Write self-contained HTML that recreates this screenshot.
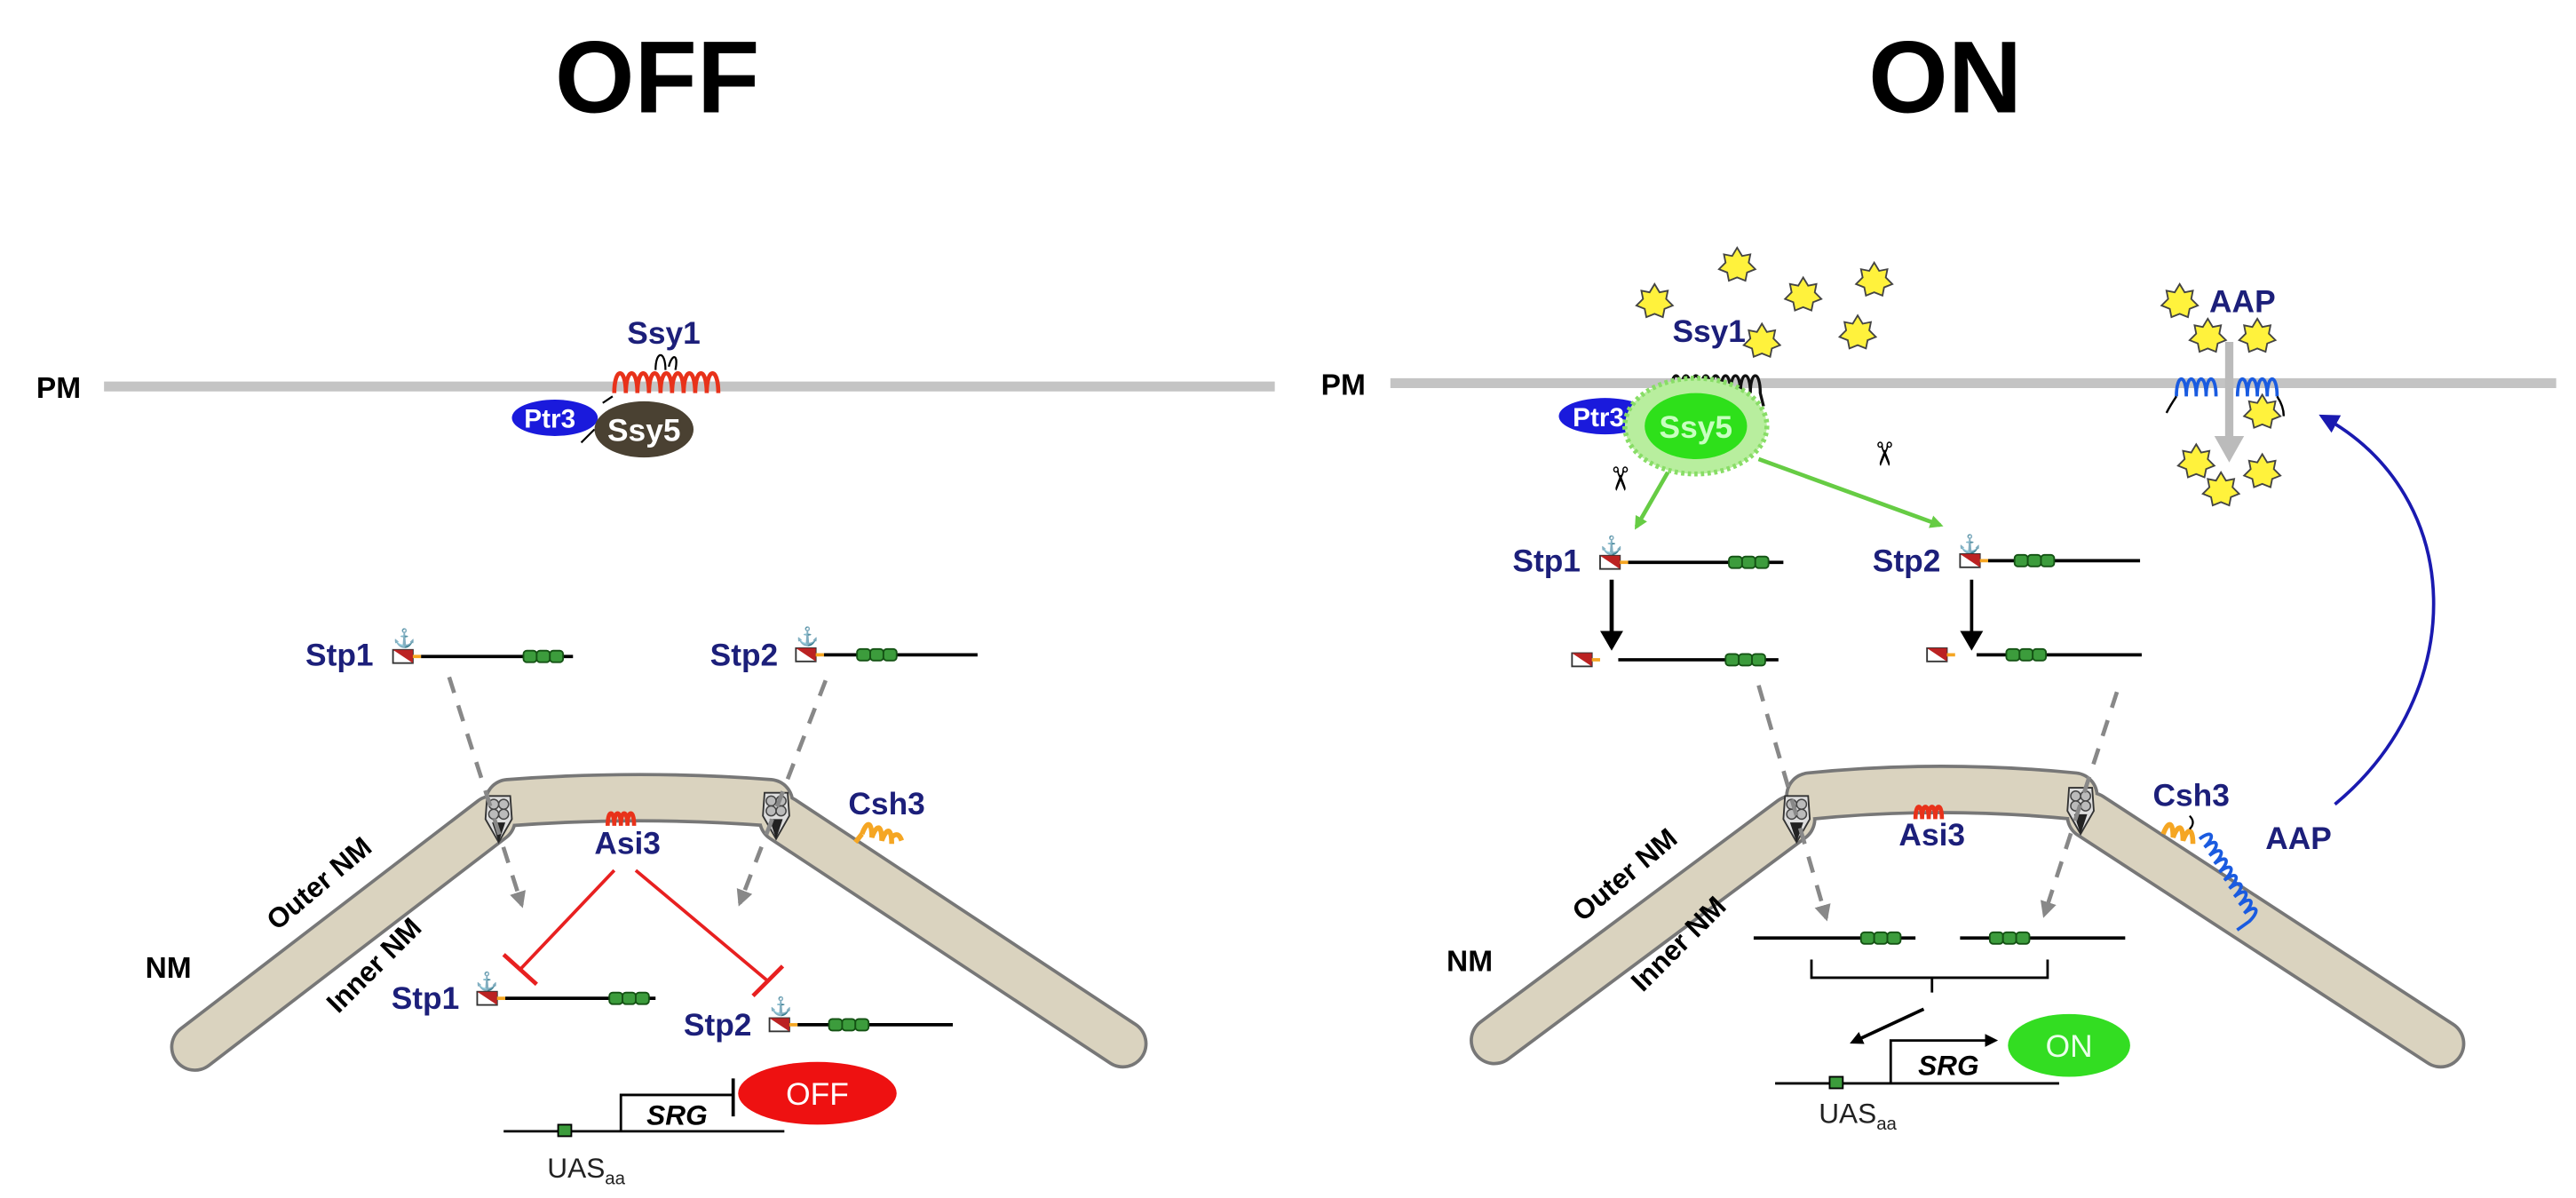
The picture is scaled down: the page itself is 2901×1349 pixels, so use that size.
<!DOCTYPE html>
<html><head><meta charset="utf-8"><style>
html,body{margin:0;padding:0;background:#fff;}
svg{display:block;}
text{font-family:"Liberation Sans",Arial,sans-serif;font-weight:bold;}
.lb{fill:#1c1f7a;font-size:19px;}
</style></head><body>
<svg width="2901" height="1349" viewBox="0 0 1560 725.4" preserveAspectRatio="none" xmlns="http://www.w3.org/2000/svg">
<defs>
<path id="star" d="M0,-11 L3,-6 8,-7 7,-2 11,2 6,4 5,9 0,7 -5,9 -6,4 -11,2 -7,-2 -8,-7 -3,-6Z" fill="#fff23c" stroke="#444" stroke-width="1"/>
<marker id="ag" markerWidth="8" markerHeight="8" refX="6" refY="4" orient="auto" markerUnits="userSpaceOnUse"><path d="M0,0 L8,4 0,8Z" fill="#66cc44"/></marker>
<marker id="ad" markerWidth="10" markerHeight="10" refX="8" refY="5" orient="auto" markerUnits="userSpaceOnUse"><path d="M0,0 L10,5 0,10Z" fill="#888"/></marker>
<marker id="ab" markerWidth="12" markerHeight="12" refX="10" refY="6" orient="auto" markerUnits="userSpaceOnUse"><path d="M0,0 L12,6 0,12Z" fill="#1a1ab0"/></marker>
<marker id="ak" markerWidth="12" markerHeight="14" refX="10" refY="7" orient="auto" markerUnits="userSpaceOnUse"><path d="M0,0 L12,7 0,14Z" fill="#000"/></marker>
<marker id="ak2" markerWidth="8" markerHeight="8" refX="6" refY="4" orient="auto" markerUnits="userSpaceOnUse"><path d="M0,0 L8,4 0,8Z" fill="#000"/></marker>
<g id="box"><rect x="0" y="-3.5" width="12" height="8" fill="#fff" stroke="#333" stroke-width="1"/><path d="M0,-3.5 L12,-3.5 12,4.5Z" fill="#b22"/><line x1="12" y1="0.5" x2="17" y2="0.5" stroke="#f5a623" stroke-width="2"/></g>
<g id="beads"><rect x="0" y="-3.5" width="8" height="7" rx="2" fill="#3c9c3c" stroke="#145214" stroke-width="1"/><rect x="8" y="-3.5" width="8" height="7" rx="2" fill="#3c9c3c" stroke="#145214" stroke-width="1"/><rect x="16" y="-3.5" width="8" height="7" rx="2" fill="#3c9c3c" stroke="#145214" stroke-width="1"/></g>
<g id="anc"><text x="0" y="0" font-size="11" font-weight="normal" fill="#555" text-anchor="middle">⚓</text></g>
<g id="pore"><path d="M-7,-10 L7,-10 8,4 0,18 -8,4Z" fill="#ddd" stroke="#333" stroke-width="1"/><circle cx="-3" cy="-5" r="3" fill="#bbb" stroke="#444" stroke-width=".8"/><circle cx="3" cy="-5" r="3" fill="#bbb" stroke="#444" stroke-width=".8"/><circle cx="-3" cy="1" r="3" fill="#bbb" stroke="#444" stroke-width=".8"/><circle cx="3" cy="1" r="3" fill="#bbb" stroke="#444" stroke-width=".8"/><path d="M-4,6 L0,18 4,6" fill="#222"/></g>
</defs>

<!-- titles -->
<text x="398" y="68" font-size="62" text-anchor="middle" fill="#000">OFF</text>
<text x="1178" y="68" font-size="62" text-anchor="middle" fill="#000">ON</text>

<!-- ============ LEFT (OFF) ============ -->
<text x="22" y="241" font-size="18" fill="#000">PM</text>
<line x1="63" y1="234" x2="772" y2="234" stroke="#c4c4c4" stroke-width="6"/>
<path d="M372,238 c0,-16 7,-16 7,0 c0,-16 7,-16 7,0 c0,-16 7,-16 7,0 c0,-16 7,-16 7,0 c0,-16 7,-16 7,0 c0,-16 7,-16 7,0 c0,-16 7,-16 7,0 c0,-16 7,-16 7,0 c0,-16 7,-16 7,0" fill="none" stroke="#e8321a" stroke-width="2.5"/>
<path d="M397,224 c0,-12 6,-12 6,0 M405,222 c2,-8 6,-8 4,2" fill="none" stroke="#000" stroke-width="1.2"/>
<text class="lb" x="402" y="208" text-anchor="middle">Ssy1</text>
<ellipse cx="336" cy="253" rx="26" ry="11" fill="#1a1adc"/>
<text x="333" y="259" font-size="16" fill="#fff" text-anchor="middle">Ptr3</text>
<path d="M352,268 l8,-8 M365,244 l6,-4" stroke="#000" stroke-width="1.2"/>
<ellipse cx="390" cy="260" rx="30" ry="17" fill="#4a4132"/>
<text x="390" y="267" font-size="19" fill="#fff" text-anchor="middle">Ssy5</text>

<!-- Stp top left -->
<text class="lb" x="185" y="403">Stp1</text>
<use href="#anc" x="245" y="390"/>
<use href="#box" x="238" y="397"/>
<line x1="255" y1="397.5" x2="347" y2="397.5" stroke="#000" stroke-width="2"/>
<use href="#beads" x="317" y="397.5"/>
<text class="lb" x="430" y="403">Stp2</text>
<use href="#anc" x="489" y="389"/>
<use href="#box" x="482" y="396"/>
<line x1="499" y1="396.5" x2="592" y2="396.5" stroke="#000" stroke-width="2"/>
<use href="#beads" x="519" y="396.5"/>

<!-- nucleus left -->
<g fill="none" stroke-linecap="round" stroke-linejoin="round">
<path d="M118,634 L298,496 M308,486 Q388,480 466,486 M474,496 L680,632" stroke="#777" stroke-width="30"/>
<path d="M118,634 L298,496 M308,486 Q388,480 466,486 M474,496 L680,632" stroke="#dad3bf" stroke-width="26"/>
</g>
<use href="#pore" x="302" y="492"/>
<use href="#pore" x="470" y="490"/>
<line x1="272" y1="410" x2="316" y2="548" stroke="#888" stroke-width="2.5" stroke-dasharray="10,8" marker-end="url(#ad)"/>
<line x1="500" y1="412" x2="448" y2="547" stroke="#888" stroke-width="2.5" stroke-dasharray="10,8" marker-end="url(#ad)"/>
<path d="M368,500 c0,-10 4,-10 4,0 c0,-10 4,-10 4,0 c0,-10 4,-10 4,0 c0,-10 4,-10 4,0" fill="none" stroke="#e8321a" stroke-width="2.5"/>
<text class="lb" x="380" y="517" text-anchor="middle">Asi3</text>
<text class="lb" x="537" y="493" text-anchor="middle">Csh3</text>
<path d="M522,505 c3,-8 6,-8 6,2 c3,-8 6,-8 6,2 c3,-8 6,-8 6,2 M518,510 l4,-5 M540,507 q4,-4 6,2" fill="none" stroke="#f5a623" stroke-width="3"/>
<text x="102" y="592" font-size="18" text-anchor="middle" fill="#000">NM</text>
<text x="195" y="540" font-size="17" fill="#000" text-anchor="middle" transform="rotate(-40 195 537)">Outer NM</text>
<text x="227" y="590" font-size="17" fill="#000" text-anchor="middle" transform="rotate(-45 227 585)">Inner NM</text>
<line x1="372" y1="527" x2="315" y2="587" stroke="#e82020" stroke-width="2"/>
<line x1="305" y1="578" x2="325" y2="596" stroke="#e82020" stroke-width="2.5"/>
<line x1="385" y1="527" x2="465" y2="594" stroke="#e82020" stroke-width="2"/>
<line x1="456" y1="603" x2="474" y2="585" stroke="#e82020" stroke-width="2.5"/>
<text class="lb" x="237" y="611">Stp1</text>
<use href="#anc" x="295" y="598"/>
<use href="#box" x="289" y="604"/>
<line x1="306" y1="604.5" x2="397" y2="604.5" stroke="#000" stroke-width="2"/>
<use href="#beads" x="369" y="604.5"/>
<text class="lb" x="414" y="627">Stp2</text>
<use href="#anc" x="473" y="613"/>
<use href="#box" x="466" y="620"/>
<line x1="483" y1="620.5" x2="577" y2="620.5" stroke="#000" stroke-width="2"/>
<use href="#beads" x="502" y="620.5"/>
<polyline points="305,685 475,685" stroke="#000" stroke-width="1.5" fill="none"/>
<polyline points="376,685 376,663 444,663" stroke="#000" stroke-width="1.5" fill="none"/>
<line x1="444" y1="653" x2="444" y2="676" stroke="#000" stroke-width="2"/>
<text x="410" y="681" font-size="17" font-style="italic" text-anchor="middle" fill="#000">SRG</text>
<rect x="338" y="681" width="8" height="7" fill="#3c9c3c" stroke="#000" stroke-width="1"/>
<text x="355" y="713" font-size="17" text-anchor="middle" fill="#222" style="font-weight:normal">UAS<tspan font-size="11" dy="4">aa</tspan></text>
<ellipse cx="495" cy="662" rx="48" ry="19" fill="#ee1111"/>
<text x="495" y="669" font-size="19" style="font-weight:normal" fill="#fff" text-anchor="middle">OFF</text>

<!-- ============ RIGHT (ON) ============ -->
<text x="800" y="239" font-size="18" fill="#000">PM</text>
<line x1="842" y1="232" x2="1548" y2="232" stroke="#c4c4c4" stroke-width="6"/>
<use href="#star" x="1052" y="161"/><use href="#star" x="1002" y="183"/><use href="#star" x="1092" y="179"/>
<use href="#star" x="1135" y="170"/><use href="#star" x="1125" y="202"/><use href="#star" x="1067" y="207"/>
<use href="#star" x="1320" y="183"/><use href="#star" x="1337" y="204"/><use href="#star" x="1367" y="204"/>
<use href="#star" x="1370" y="250"/><use href="#star" x="1330" y="280"/><use href="#star" x="1345" y="297"/><use href="#star" x="1370" y="286"/>
<path d="M1012,238 c0,-14 6,-14 6,0 c0,-14 6,-14 6,0 c0,-14 6,-14 6,0 c0,-14 6,-14 6,0 c0,-14 6,-14 6,0 c0,-14 6,-14 6,0 c0,-14 6,-14 6,0 c0,-14 6,-14 6,0 c0,-14 6,-14 6,0 l2,8" fill="none" stroke="#111" stroke-width="1.8"/>
<text class="lb" x="1035" y="207" text-anchor="middle">Ssy1</text>
<ellipse cx="972" cy="252" rx="28" ry="11" fill="#1a1adc"/>
<text x="968" y="258" font-size="16" fill="#fff" text-anchor="middle">Ptr3</text>
<ellipse cx="1027" cy="258" rx="43" ry="29" fill="#b8ee9e" stroke="#88dd66" stroke-width="3" stroke-dasharray="2,2"/>
<ellipse cx="1027" cy="258" rx="31" ry="20" fill="#2ee01a"/>
<text x="1027" y="265" font-size="19" fill="#c8ffc0" text-anchor="middle">Ssy5</text>
<line x1="1010" y1="286" x2="991" y2="319" stroke="#66cc44" stroke-width="2.5" marker-end="url(#ag)"/>
<line x1="1065" y1="278" x2="1175" y2="318" stroke="#66cc44" stroke-width="2.5" marker-end="url(#ag)"/>
<text x="980" y="296" font-size="20" style="font-weight:normal" text-anchor="middle" transform="rotate(90 980 290)">✂</text>
<text x="1140" y="281" font-size="20" style="font-weight:normal" text-anchor="middle" transform="rotate(90 1140 275)">✂</text>
<text class="lb" x="1358" y="189" text-anchor="middle">AAP</text>
<path d="M1318,240 c0,-14 6,-14 6,0 c0,-14 6,-14 6,0 c0,-14 6,-14 6,0 c0,-14 6,-14 6,0 M1355,240 c0,-14 6,-14 6,0 c0,-14 6,-14 6,0 c0,-14 6,-14 6,0 c0,-14 6,-14 6,0" fill="none" stroke="#1a5be0" stroke-width="2"/>
<path d="M1318,240 q-4,6 -6,10 M1379,240 q4,6 4,12" fill="none" stroke="#000" stroke-width="1.3"/>
<line x1="1350" y1="207" x2="1350" y2="268" stroke="#bbb" stroke-width="5"/>
<path d="M1341,264 L1359,264 1350,280Z" fill="#bbb"/>
<path d="M1414,487 C1495,420 1495,300 1406,252" fill="none" stroke="#1a1ab0" stroke-width="2" marker-end="url(#ab)"/>
<text class="lb" x="916" y="346">Stp1</text>
<use href="#anc" x="976" y="334"/>
<use href="#box" x="969" y="340"/>
<line x1="986" y1="340.5" x2="1080" y2="340.5" stroke="#000" stroke-width="2"/>
<use href="#beads" x="1047" y="340.5"/>
<line x1="976" y1="351" x2="976" y2="392" stroke="#000" stroke-width="2.5" marker-end="url(#ak)"/>
<use href="#box" x="952" y="399"/>
<line x1="980" y1="399.5" x2="1077" y2="399.5" stroke="#000" stroke-width="2"/>
<use href="#beads" x="1045" y="399.5"/>
<text class="lb" x="1134" y="346">Stp2</text>
<use href="#anc" x="1193" y="333"/>
<use href="#box" x="1187" y="339"/>
<line x1="1204" y1="339.5" x2="1296" y2="339.5" stroke="#000" stroke-width="2"/>
<use href="#beads" x="1220" y="339.5"/>
<line x1="1194" y1="351" x2="1194" y2="392" stroke="#000" stroke-width="2" marker-end="url(#ak)"/>
<use href="#box" x="1167" y="396"/>
<line x1="1197" y1="396.5" x2="1297" y2="396.5" stroke="#000" stroke-width="2"/>
<use href="#beads" x="1215" y="396.5"/>
<g fill="none" stroke-linecap="round" stroke-linejoin="round">
<path d="M905,630 L1085,496 M1096,482 Q1175,474 1256,482 M1266,494 L1478,632" stroke="#777" stroke-width="30"/>
<path d="M905,630 L1085,496 M1096,482 Q1175,474 1256,482 M1266,494 L1478,632" stroke="#dad3bf" stroke-width="26"/>
</g>
<use href="#pore" x="1088" y="492"/>
<use href="#pore" x="1260" y="487"/>
<line x1="1065" y1="415" x2="1106" y2="556" stroke="#888" stroke-width="2.5" stroke-dasharray="10,8" marker-end="url(#ad)"/>
<line x1="1282" y1="419" x2="1238" y2="554" stroke="#888" stroke-width="2.5" stroke-dasharray="10,8" marker-end="url(#ad)"/>
<path d="M1160,496 c0,-10 4,-10 4,0 c0,-10 4,-10 4,0 c0,-10 4,-10 4,0 c0,-10 4,-10 4,0" fill="none" stroke="#e8321a" stroke-width="2.5"/>
<text class="lb" x="1170" y="512" text-anchor="middle">Asi3</text>
<text class="lb" x="1327" y="488" text-anchor="middle">Csh3</text>
<path d="M1310,505 c3,-8 6,-8 6,2 c3,-8 6,-8 6,2 c3,-8 6,-8 6,2" fill="none" stroke="#f5a623" stroke-width="3"/>
<path d="M1326,494 q4,4 0,8" fill="none" stroke="#000" stroke-width="1.2"/>
<path d="M1332,508 c4,-9 8,-6 5,3 c4,-9 8,-6 5,3 c4,-9 8,-6 5,3 c4,-9 8,-6 5,3 c4,-9 8,-6 5,3 c4,-9 8,-6 5,3 c4,-9 8,-6 5,3 c4,-9 8,-6 5,3 c4,-9 8,-6 5,3 c4,-9 8,-6 5,3 l-4,8" fill="none" stroke="#1a5be0" stroke-width="2" transform="rotate(28 1332 508)"/>
<text class="lb" x="1392" y="514" text-anchor="middle">AAP</text>
<text x="890" y="588" font-size="18" text-anchor="middle" fill="#000">NM</text>
<text x="985" y="535" font-size="17" fill="#000" text-anchor="middle" transform="rotate(-40 985 531)">Outer NM</text>
<text x="1017" y="577" font-size="17" fill="#000" text-anchor="middle" transform="rotate(-45 1017 572)">Inner NM</text>
<line x1="1062" y1="568" x2="1160" y2="568" stroke="#000" stroke-width="2"/>
<use href="#beads" x="1127" y="568"/>
<line x1="1187" y1="568" x2="1287" y2="568" stroke="#000" stroke-width="2"/>
<use href="#beads" x="1205" y="568"/>
<path d="M1097,581 L1097,592 1240,592 1240,581 M1170,592 L1170,601" fill="none" stroke="#000" stroke-width="1.5"/>
<line x1="1165" y1="611" x2="1122" y2="631" stroke="#000" stroke-width="2" marker-end="url(#ak2)"/>
<line x1="1075" y1="656" x2="1247" y2="656" stroke="#000" stroke-width="1.5"/>
<polyline points="1145,656 1145,630 1208,630" stroke="#000" stroke-width="1.5" fill="none" marker-end="url(#ak2)"/>
<text x="1180" y="651" font-size="17" font-style="italic" text-anchor="middle" fill="#000">SRG</text>
<rect x="1108" y="652" width="8" height="7" fill="#3c9c3c" stroke="#000" stroke-width="1"/>
<text x="1125" y="680" font-size="17" style="font-weight:normal" text-anchor="middle" fill="#222">UAS<tspan font-size="11" dy="4">aa</tspan></text>
<ellipse cx="1253" cy="633" rx="37" ry="19" fill="#33dd22"/>
<text x="1253" y="640" font-size="19" style="font-weight:normal" fill="#eaffea" text-anchor="middle">ON</text>
</svg>
</body></html>
